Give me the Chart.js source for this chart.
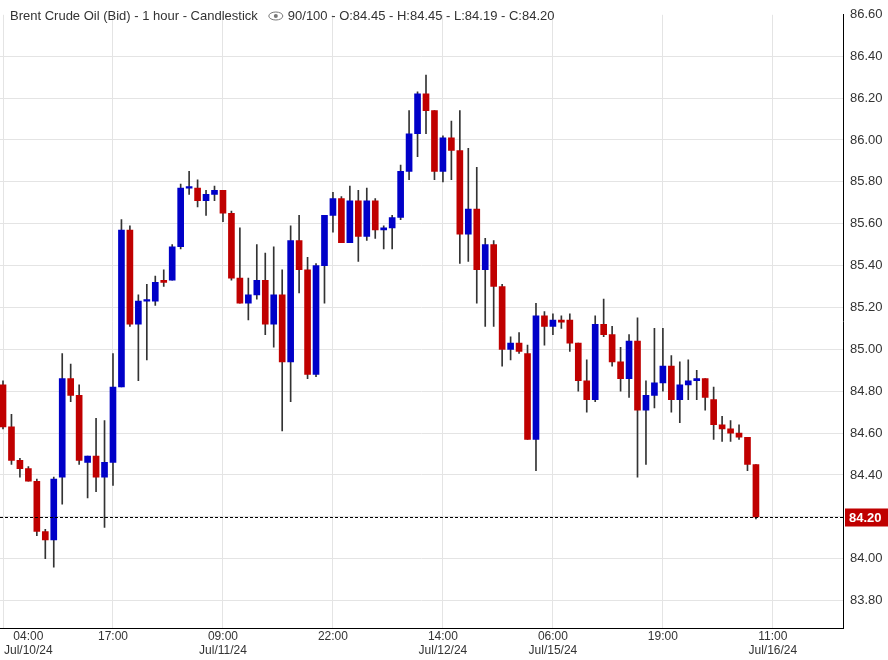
<!DOCTYPE html>
<html><head><meta charset="utf-8">
<script src="https://cdn.jsdelivr.net/npm/chart.js@4"></script>
<style>html,body{margin:0;padding:0;background:#fff}#wrap{width:888px;height:660px}</style>
</head><body><div id="wrap"><canvas id="c"></canvas></div>
<script>
const opens  = [84.83,84.63,84.47,84.43,84.37,84.13,84.09,84.39,84.86,84.78,84.46,84.49,84.39,84.46,84.82,85.57,85.12,85.23,85.23,85.33,85.33,85.49,85.77,85.77,85.71,85.74,85.76,85.65,85.34,85.22,85.26,85.33,85.12,85.26,84.94,85.52,85.38,84.88,85.40,85.64,85.72,85.51,85.71,85.54,85.71,85.57,85.58,85.63,85.85,86.03,86.22,86.14,85.85,86.01,85.95,85.55,85.67,85.38,85.50,85.30,85.00,85.03,84.98,84.57,85.16,85.11,85.14,85.14,85.03,84.85,84.76,85.12,85.07,84.94,84.86,85.04,84.71,84.78,84.84,84.92,84.76,84.83,84.85,84.86,84.76,84.64,84.62,84.60,84.58,84.45];
const highs  = [84.85,84.69,84.48,84.44,84.38,84.14,84.39,84.98,84.93,84.83,84.49,84.67,84.66,84.98,85.62,85.59,85.26,85.31,85.35,85.38,85.50,85.79,85.85,85.81,85.76,85.78,85.76,85.66,85.58,85.34,85.50,85.46,85.49,85.38,85.59,85.64,85.44,85.41,85.64,85.75,85.73,85.78,85.76,85.77,85.72,85.59,85.64,85.88,86.14,86.23,86.31,86.14,86.02,86.09,86.14,85.96,85.87,85.53,85.52,85.31,85.06,85.08,85.02,85.22,85.18,85.17,85.16,85.17,85.03,84.95,85.16,85.24,85.11,85.01,85.07,85.15,84.85,85.10,85.10,84.97,84.94,84.95,84.90,84.86,84.82,84.68,84.66,84.64,84.58,84.45];
const lows   = [84.62,84.45,84.39,84.37,84.11,84.00,83.96,84.26,84.75,84.45,84.29,84.32,84.15,84.35,84.82,85.11,84.85,84.95,85.21,85.30,85.33,85.48,85.74,85.68,85.64,85.71,85.61,85.33,85.22,85.14,85.24,85.07,85.01,84.61,84.75,85.27,84.86,84.87,85.22,85.56,85.51,85.51,85.42,85.52,85.53,85.48,85.48,85.62,85.81,85.92,86.03,85.81,85.80,85.81,85.41,85.42,85.22,85.11,85.11,84.92,84.95,84.98,84.57,84.42,85.02,85.07,85.10,84.99,84.80,84.70,84.75,85.06,84.92,84.80,84.77,84.39,84.45,84.72,84.80,84.70,84.65,84.76,84.76,84.71,84.57,84.56,84.56,84.57,84.42,84.19];
const closes = [84.63,84.47,84.43,84.37,84.13,84.09,84.38,84.86,84.78,84.47,84.49,84.39,84.46,84.82,85.57,85.12,85.23,85.23,85.32,85.32,85.49,85.77,85.77,85.71,85.74,85.76,85.65,85.34,85.22,85.26,85.33,85.12,85.26,84.94,85.52,85.38,84.88,85.40,85.64,85.72,85.51,85.71,85.54,85.71,85.57,85.58,85.63,85.85,86.03,86.22,86.14,85.85,86.01,85.95,85.55,85.67,85.38,85.50,85.30,85.00,85.03,84.99,84.57,85.16,85.11,85.14,85.13,85.03,84.85,84.76,85.12,85.07,84.94,84.86,85.04,84.71,84.78,84.84,84.92,84.76,84.83,84.85,84.86,84.77,84.64,84.62,84.60,84.58,84.45,84.20];
const xTickPos   = [0,13,26,39,52,65,78,91];
const xTickTime  = ["04:00","17:00","09:00","22:00","14:00","06:00","19:00","11:00"];
const xTickDate  = ["Jul/10/24","","Jul/11/24","","Jul/12/24","Jul/15/24","","Jul/16/24"];
const yTicks = [83.8,84.0,84.2,84.4,84.6,84.8,85.0,85.2,85.4,85.6,85.8,86.0,86.2,86.4];
const yTopTick = 86.6;
const lastPrice = 84.20;

const RED='#c00000', BLUE='#0000c8';
const idx = opens.map((_,i)=>i);
const col = idx.map(i=> closes[i] < opens[i] ? RED : (closes[i]>opens[i]?BLUE:(i>0&&closes[i]<closes[i-1]?RED:BLUE)));
const wicks = idx.map(i=>({x:i,y:[lows[i],highs[i]]}));
const bodies = idx.map(i=>({x:i,y:[Math.min(opens[i],closes[i]),Math.max(opens[i],closes[i])]}));

const overlay = {
  id:'overlay',
  afterDraw(chart){
    const {ctx, chartArea:a, scales:{x,y}} = chart;
    ctx.save();
    // top cut tick label
    ctx.fillStyle='#333'; ctx.font='13px "Liberation Sans", Arial'; ctx.textBaseline='middle'; ctx.textAlign='left';
    ctx.fillText(yTopTick.toFixed(2), a.right+7, y.getPixelForValue(yTopTick));
    // last price dashed line
    const py = Math.round(y.getPixelForValue(lastPrice))+0.5;
    ctx.strokeStyle='#000'; ctx.lineWidth=1; ctx.setLineDash([3,2]);
    ctx.beginPath(); ctx.moveTo(a.left,py); ctx.lineTo(a.right,py); ctx.stroke();
    ctx.setLineDash([]);
    ctx.fillStyle=RED; ctx.fillRect(a.right+2,py-9,43,18);
    ctx.fillStyle='#fff'; ctx.font='bold 13px "Liberation Sans", Arial';
    ctx.fillText(lastPrice.toFixed(2), a.right+6, py+1);
    // x labels
    ctx.fillStyle='#333'; ctx.font='12px "Liberation Sans", Arial'; ctx.textAlign='center';
    xTickPos.forEach((p,k)=>{
      let cx = x.getPixelForValue(p);
      const w = Math.max(ctx.measureText(xTickTime[k]).width, ctx.measureText(xTickDate[k]).width);
      if (cx - w/2 < 4) cx = 4 + w/2;
      ctx.fillText(xTickTime[k], cx, a.bottom+9);
      if (xTickDate[k]) ctx.fillText(xTickDate[k], cx, a.bottom+23);
    });
    // title
    ctx.textAlign='left'; ctx.font='13px "Liberation Sans", Arial'; ctx.fillStyle='#333';
    const t1='Brent Crude Oil (Bid) - 1 hour - Candlestick';
    ctx.fillText(t1, 10, 16);
    let ex = 10 + ctx.measureText(t1).width + 12;
    ctx.strokeStyle='#777'; ctx.lineWidth=1;
    ctx.beginPath(); ctx.ellipse(ex+6,16,7,4,0,0,Math.PI*2); ctx.stroke();
    ctx.beginPath(); ctx.arc(ex+6,16,2,0,Math.PI*2); ctx.fillStyle='#777'; ctx.fill();
    ctx.fillStyle='#333';
    ctx.fillText('90/100 - O:84.45 - H:84.45 - L:84.19 - C:84.20', ex+18, 16);
    ctx.restore();
  }
};

new Chart(document.getElementById('c'),{
  type:'bar',
  data:{datasets:[
    {data:wicks, backgroundColor:'#333', barThickness:1, grouped:false, order:2},
    {data:bodies, backgroundColor:col, barThickness:6, grouped:false, minBarLength:1.5, order:1}
  ]},
  options:{
    responsive:true, maintainAspectRatio:false, animation:false,
    layout:{padding:0},
    plugins:{legend:{display:false}, tooltip:{enabled:false}},
    scales:{
      x:{type:'linear', min:-0.355, max:99.29, offset:false,
         afterBuildTicks(s){ s.ticks = xTickPos.map(v=>({value:v})); },
         afterFit(s){ s.height=32; },
         ticks:{display:false},
         grid:{color:'#e4e4e4', drawTicks:false, offset:false},
         border:{display:true,color:'#000'}},
      y:{position:'right', min:83.669, max:86.598,
         afterBuildTicks(s){ s.ticks = yTicks.map(v=>({value:v})); },
         afterFit(s){ s.width=45; },
         ticks:{color:'#333', font:{size:13, family:'"Liberation Sans", Arial'}, padding:7, callback:v=>Number(v).toFixed(2)},
         grid:{color:'#e4e4e4', drawTicks:false},
         border:{display:true,color:'#000'}}
    }
  },
  plugins:[overlay]
});
</script></body></html>
